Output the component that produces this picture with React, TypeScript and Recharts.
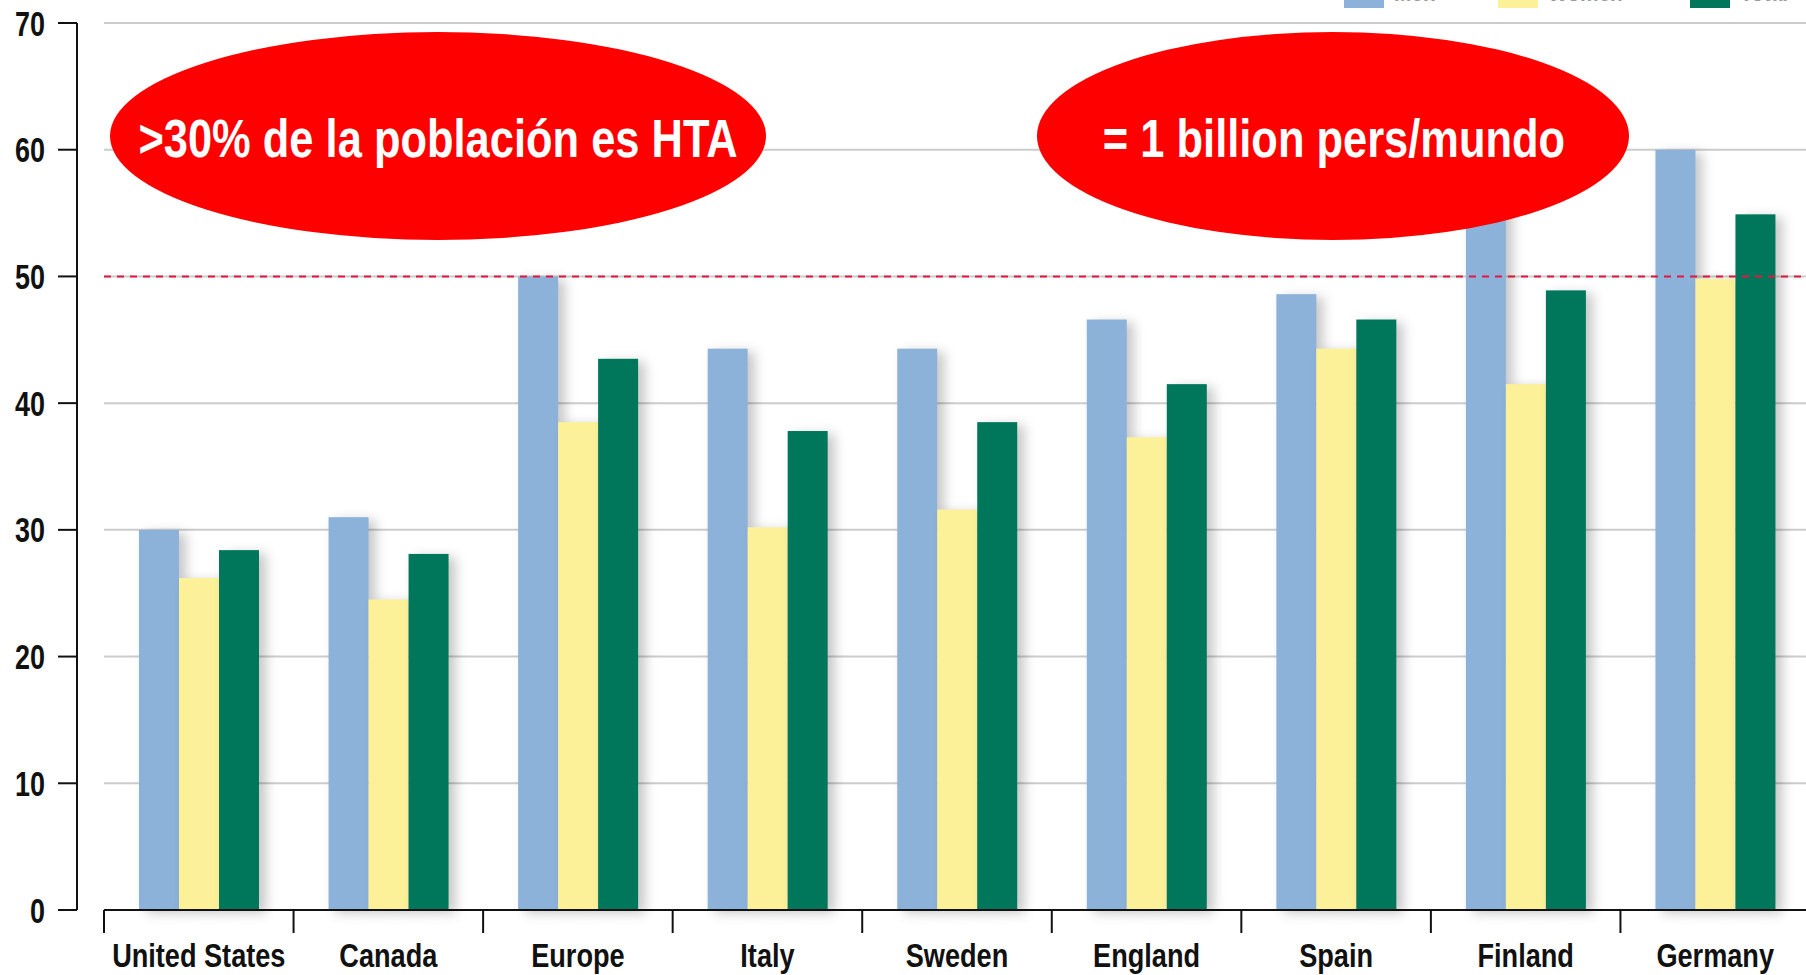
import React from 'react';
import {
  Bar,
  BarChart,
  CartesianGrid,
  ReferenceLine,
  XAxis,
  YAxis,
} from 'recharts';

// prevalence of hypertension (%) by country
const categories = ['United States', 'Canada', 'Europe', 'Italy', 'Sweden', 'England', 'Spain', 'Finland', 'Germany'];
const menValues = [30, 31, 50, 44.3, 44.3, 46.6, 48.6, 55.7, 60];
const womenValues = [26.2, 24.5, 38.5, 30.2, 31.6, 37.3, 44.3, 41.5, 49.8];
const totalValues = [28.4, 28.1, 43.5, 37.8, 38.5, 41.5, 46.6, 48.9, 54.9];

const seriesKeys = ['men', 'women', 'total'];
const seriesNames = ['Men', 'Women', 'Total'];
const seriesColors = ['#8db2da', '#fcf199', '#00775a'];

const yTicks = [0, 10, 20, 30, 40, 50, 60, 70];
const thresholdValue = 50;

const leftNote = '>30% de la población es HTA';
const rightNote = '= 1 billion pers/mundo';

const data = categories.map((name, i) => ({
  name,
  men: menValues[i],
  women: womenValues[i],
  total: totalValues[i],
}));

const W = 1806;
const H = 975;
const PLOT_LEFT = 104;
const PLOT_RIGHT = 1810;
const BAND = (PLOT_RIGHT - PLOT_LEFT) / categories.length;

// no condensed font installed, so squeeze Liberation Sans bold horizontally
const FONT = "'Liberation Sans', Arial, sans-serif";

function NarrowText({ x, y, size, anchor, fill, squeeze, dy, children }: any) {
  return (
    <text
      transform={`translate(${x},${y}) scale(${squeeze},1)`}
      x={0}
      y={0}
      dy={dy}
      textAnchor={anchor}
      fontFamily={FONT}
      fontWeight={700}
      fontSize={size}
      fill={fill}
    >
      {children}
    </text>
  );
}

function ShadowBar(props: any) {
  const { x, y, width, height, fill } = props;
  if (!height || height <= 0) return <g />;
  return (
    <rect
      x={x}
      y={y}
      width={width}
      height={height}
      fill={fill}
      style={{ filter: 'drop-shadow(7px 3px 6px rgba(0,0,0,0.22))' }}
    />
  );
}

// label plus the boundary tick at the left edge of each category band
function CategoryTick(props: any) {
  const { x, y, payload } = props;
  const edge = x - BAND / 2;
  return (
    <g>
      <line x1={edge} y1={y} x2={edge} y2={y + 23} stroke="#111" strokeWidth={2} />
      <NarrowText x={x} y={y + 57} size={33.5} anchor="middle" fill="#111" squeeze={0.81}>
        {payload.value}
      </NarrowText>
    </g>
  );
}

function ValueTick(props: any) {
  const { x, y, payload } = props;
  return (
    <NarrowText x={x} y={y} dy="0.36em" size={35} anchor="end" fill="#111" squeeze={0.77}>
      {payload.value}
    </NarrowText>
  );
}

function Overlay() {
  const legendX = [1344, 1498, 1690];
  return (
    <svg
      width={W}
      height={H}
      style={{ position: 'absolute', left: 0, top: 0, pointerEvents: 'none' }}
    >
      {seriesNames.map((n, i) => (
        <g key={n}>
          <rect x={legendX[i]} y={-14} width={40} height={22} fill={seriesColors[i]} />
          <NarrowText x={legendX[i] + 50} y={1} size={26} anchor="start" fill="#999" squeeze={0.8}>
            {n}
          </NarrowText>
        </g>
      ))}
      <ellipse cx={438} cy={136} rx={328} ry={104} fill="#ff0000" />
      <NarrowText x={438} y={157} size={53} anchor="middle" fill="#fff" squeeze={0.82}>
        {leftNote}
      </NarrowText>
      <ellipse cx={1333} cy={136} rx={296} ry={104} fill="#ff0000" />
      <NarrowText x={1334} y={157} size={53} anchor="middle" fill="#fff" squeeze={0.82}>
        {rightNote}
      </NarrowText>
    </svg>
  );
}

export default function App() {
  return (
    <div style={{ position: 'absolute', left: 0, top: 0, width: W, height: H, overflow: 'hidden', background: '#fff' }}>
      <BarChart
        width={W}
        height={H}
        data={data}
        margin={{ top: 23, right: W - PLOT_RIGHT, left: 0, bottom: 0 }}
        barCategoryGap={35}
        barGap={0}
      >
        <CartesianGrid
          xAxisId="cat"
          yAxisId="val"
          vertical={false}
          stroke="#cccccc"
          strokeWidth={2}
        />
        <XAxis
          xAxisId="cat"
          dataKey="name"
          height={65}
          tickSize={0}
          tickMargin={0}
          tickLine={false}
          axisLine={{ stroke: '#111', strokeWidth: 2 }}
          tick={<CategoryTick />}
          interval={0}
        />
        <YAxis
          yAxisId="gap"
          width={27}
          domain={[0, 70]}
          ticks={yTicks}
          axisLine={false}
          tickLine={false}
          tick={false}
        />
        <YAxis
          yAxisId="val"
          width={77}
          domain={[0, 70]}
          ticks={yTicks}
          interval={0}
          axisLine={{ stroke: '#111', strokeWidth: 2 }}
          tickLine={{ stroke: '#111', strokeWidth: 2 }}
          tickSize={19}
          tickMargin={13}
          tick={<ValueTick />}
        />
        {seriesKeys.map((k, i) => (
          <Bar
            key={k}
            xAxisId="cat"
            yAxisId="val"
            dataKey={k}
            name={seriesNames[i]}
            fill={seriesColors[i]}
            shape={ShadowBar}
            isAnimationActive={false}
          />
        ))}
        <ReferenceLine
          xAxisId="cat"
          yAxisId="val"
          y={thresholdValue}
          stroke="#e3173e"
          strokeWidth={2}
          strokeDasharray="7 6"
        />
      </BarChart>
      <Overlay />
    </div>
  );
}
